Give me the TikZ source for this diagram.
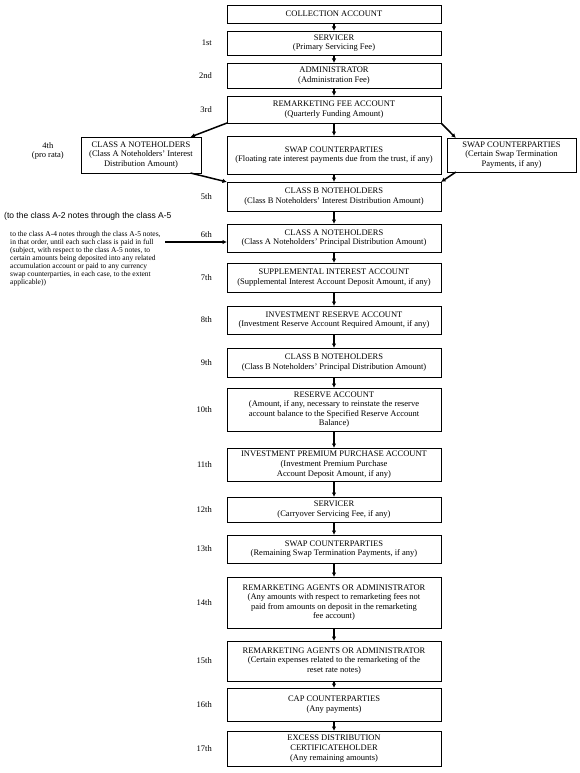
\documentclass[tikz,border=0pt]{standalone}
\usepackage{fontspec}
\setmainfont{Liberation Serif}
\newfontfamily\headfont{Liberation Sans}
\usetikzlibrary{arrows.meta,positioning,calc}

\begin{document}
\begin{tikzpicture}[
    x=1pt,y=1pt,
    box/.style={draw,line width=0.7pt,outer sep=0pt,minimum width=214pt,inner sep=1pt,align=center,font=\fontsize{8.5}{9.6}\selectfont},
    ord/.style={font=\fontsize{8.5}{9.6}\selectfont,align=center,inner sep=1pt},
    arr/.style={-{Latex[length=4.5pt,width=4.5pt]},line width=1.5pt}
]
\useasboundingbox (0,0) rectangle (579,-773);
\node[box,minimum height=18pt] (coll) at (334,-14) {COLLECTION ACCOUNT};
\node[box,minimum height=24pt,below=8pt of coll] (serv) {SERVICER\\(Primary Servicing Fee)};
\node[box,minimum height=25pt,below=8pt of serv] (admin) {ADMINISTRATOR\\(Administration Fee)};
\node[box,minimum height=27pt,below=8pt of admin] (rfee) {REMARKETING FEE ACCOUNT\\(Quarterly Funding Amount)};
\node[box,minimum height=38pt,below=13pt of rfee] (swapC) {SWAP COUNTERPARTIES\\(Floating rate interest payments due from the trust, if any)};
\node[box,minimum width=120pt,minimum height=36pt,left=26pt of swapC] (clsA) {CLASS A NOTEHOLDERS\\(Class A Noteholders’ Interest\\Distribution Amount)};
\node[box,minimum width=129pt,minimum height=34pt,right=6pt of swapC] (swapR) {SWAP COUNTERPARTIES\\(Certain Swap Termination\\Payments, if any)};
\node[box,minimum height=29pt,below=8pt of swapC] (clsB) {CLASS B NOTEHOLDERS\\(Class B Noteholders’ Interest Distribution Amount)};
\node[box,minimum height=28pt,below=13pt of clsB] (clsAP) {CLASS A NOTEHOLDERS\\(Class A Noteholders’ Principal Distribution Amount)};
\node[box,minimum height=29pt,below=11pt of clsAP] (supp) {SUPPLEMENTAL INTEREST ACCOUNT\\(Supplemental Interest Account Deposit Amount, if any)};
\node[box,minimum height=28pt,below=14pt of supp] (invres) {INVESTMENT RESERVE ACCOUNT\\(Investment Reserve Account Required Amount, if any)};
\node[box,minimum height=29pt,below=14pt of invres] (clsBP) {CLASS B NOTEHOLDERS\\(Class B Noteholders’ Principal Distribution Amount)};
\node[box,minimum height=43pt,below=11pt of clsBP] (resv) {RESERVE ACCOUNT\\(Amount, if any, necessary to reinstate the reserve\\account balance to the Specified Reserve Account\\Balance)};
\node[box,minimum height=33pt,below=17pt of resv] (invprem) {INVESTMENT PREMIUM PURCHASE ACCOUNT\\(Investment Premium Purchase\\Account Deposit Amount, if any)};
\node[box,minimum height=25pt,below=16pt of invprem] (serv2) {SERVICER\\(Carryover Servicing Fee, if any)};
\node[box,minimum height=28pt,below=13pt of serv2] (swap2) {SWAP COUNTERPARTIES\\(Remaining Swap Termination Payments, if any)};
\node[box,minimum height=51pt,below=14pt of swap2] (remk) {REMARKETING AGENTS OR ADMINISTRATOR\\(Any amounts with respect to remarketing fees not\\paid from amounts on deposit in the remarketing\\fee account)};
\node[box,minimum height=40pt,below=13pt of remk] (remk2) {REMARKETING AGENTS OR ADMINISTRATOR\\(Certain expenses related to the remarketing of the\\reset rate notes)};
\node[box,minimum height=33pt,below=7pt of remk2] (cap) {CAP COUNTERPARTIES\\(Any payments)};
\node[box,minimum height=35pt,below=10pt of cap] (excess) {EXCESS DISTRIBUTION\\CERTIFICATEHOLDER\\(Any remaining amounts)};

\node[ord,left=14pt of serv] (o1) {1st};
\node[ord,left=14pt of admin] (o2) {2nd};
\node[ord,left=14pt of rfee] (o3) {3rd};
\node[ord,left=16pt of clsA,yshift=4pt] (o4) {4th\\(pro rata)};
\node[ord,left=14pt of clsB] (o5) {5th};
\node[ord,left=14pt of clsAP,yshift=3pt] (o6) {6th};
\node[ord,left=14pt of supp] (o7) {7th};
\node[ord,left=14pt of invres] (o8) {8th};
\node[ord,left=14pt of clsBP] (o9) {9th};
\node[ord,left=14pt of resv] (o10) {10th};
\node[ord,left=14pt of invprem] (o11) {11th};
\node[ord,left=14pt of serv2] (o12) {12th};
\node[ord,left=14pt of swap2] (o13) {13th};
\node[ord,left=14pt of remk] (o14) {14th};
\node[ord,left=14pt of remk2] (o15) {15th};
\node[ord,left=14pt of cap] (o16) {16th};
\node[ord,left=14pt of excess] (o17) {17th};

\node[anchor=west,inner sep=0pt,font=\headfont\fontsize{8.5}{10}\selectfont] (head) at (4,-216) {(to the class A-2 notes through the class A-5};
\node[anchor=north west,inner sep=0pt,align=left,font=\fontsize{7.5}{8}\selectfont] (para) at (10,-231) {to the class A-4 notes through the class A-5 notes,\\in that order, until each such class is paid in full\\(subject, with respect to the class A-5 notes, to\\certain amounts being deposited into any related\\accumulation account or paid to any currency\\swap counterparties, in each case, to the extent\\applicable))};
\coordinate (src) at ($(clsAP.west)+(-62,-4)$);

\draw[arr] (coll) -- (serv);
\draw[arr] (serv) -- (admin);
\draw[arr] (admin) -- (rfee);
\draw[arr] (rfee) -- (swapC);
\draw[arr] (rfee.south west) -- (clsA.20);
\draw[arr] (rfee.south east) -- (swapR.163);
\draw[arr] (swapC) -- (clsB);
\draw[arr] (clsA.-20) -- (clsB.north west);
\draw[arr] (swapR.197) -- (clsB.north east);
\draw[arr] (clsB) -- (clsAP);
\draw[arr] (src) -- (src -| clsAP.west);
\draw[arr] (clsAP) -- (supp);
\draw[arr] (supp) -- (invres);
\draw[arr] (invres) -- (clsBP);
\draw[arr] (clsBP) -- (resv);
\draw[arr] (resv) -- (invprem);
\draw[arr] (invprem) -- (serv2);
\draw[arr] (serv2) -- (swap2);
\draw[arr] (swap2) -- (remk);
\draw[arr] (remk) -- (remk2);
\draw[arr] (remk2) -- (cap);
\draw[arr] (cap) -- (excess);
\end{tikzpicture}
\end{document}
